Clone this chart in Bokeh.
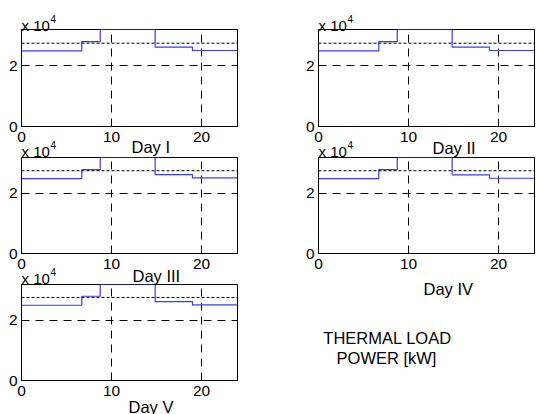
from bokeh.plotting import figure
from bokeh.models import Range1d, FixedTicker, Span, Label
from bokeh.layouts import row, column
from bokeh.embed import file_html
from bokeh.resources import INLINE

# ---------------- data ----------------
day_names = ["Day I", "Day II", "Day III", "Day IV", "Day V"]
# hours at which the thermal load changes (stairs)
step_hours = [0, 6.7, 8.75, 14.85, 19.0, 24]
load_day1 = [24900, 27900, 31900, 26100, 25000, 25000]
load_day2 = [24900, 27900, 31900, 26100, 25000, 25000]
load_day3 = [24900, 27900, 31900, 26200, 25100, 25100]
load_day4 = [24900, 27900, 31900, 26100, 25000, 25000]
load_day5 = [25000, 28000, 31900, 26200, 25100, 25100]
loads = [load_day1, load_day2, load_day3, load_day4, load_day5]
avg_load = [27400, 27400, 27500, 27500, 27600]
x_ticks = [0, 10, 20]
y_ticks = [0, 20000]
y_tick_labels = {0: "0", 20000: "2"}
y_max = 31900
x_max = 24

FONT = "Liberation Sans"

# ---------------- layout (pixels) ----------------
# (canvas_top, frame_left, frame_top, frame_bottom) of each panel
panel_frame = [(0, 21, 29, 126), (268, 318, 29, 126),
               (128, 21, 157, 253), (268, 318, 157, 253),
               (256, 21, 284, 380)]
# left x and baseline y of the day captions
day_label_pos = [(131, 146), (432, 147), (132, 275), (423, 288), (128, 406)]
exp_gap = [4, 4, 6, 6, 6]


def make_panel(i, left, right, top, bottom, height):
    p = figure(width=268, height=height, output_backend="svg", toolbar_location=None,
               x_range=Range1d(0, x_max), y_range=Range1d(0, y_max),
               min_border_left=left, min_border_right=right,
               min_border_top=top, min_border_bottom=bottom)
    p.border_fill_alpha = 0
    p.background_fill_color = "white"
    p.outline_line_color = "black"
    p.outline_line_width = 1

    for ax, tk in ((p.xaxis[0], x_ticks), (p.yaxis[0], y_ticks)):
        ax.ticker = FixedTicker(ticks=tk)
        ax.major_tick_in = 4
        ax.major_tick_out = 0
        ax.minor_tick_in = 0
        ax.minor_tick_out = 0
        ax.axis_line_color = "black"
        ax.major_tick_line_color = "black"
        ax.major_label_text_font = FONT
        ax.major_label_text_font_size = "15.5px"
        ax.major_label_text_color = "black"
    p.xaxis.major_label_standoff = 5
    p.yaxis.major_label_standoff = 4
    p.yaxis.major_label_overrides = y_tick_labels

    p.xgrid.ticker = FixedTicker(ticks=[10, 20])
    p.ygrid.ticker = FixedTicker(ticks=[20000])
    for g in (p.xgrid, p.ygrid):
        g.grid_line_color = "black"
        g.grid_line_dash = "8 6"
        g.grid_line_width = 1

    p.add_layout(Span(location=avg_load[i], dimension="width", line_color="black",
                      line_dash="3 2", line_width=1))
    p.step(step_hours, loads[i], mode="after", line_color="#3a3aff", line_width=1.2)
    return p


pA = make_panel(0, 21, 31, 29, 24, 150)
pB = make_panel(1, 50, 2, 29, 24, 150)
pC = make_panel(2, 21, 31, 29, 25, 150)
pD = make_panel(3, 50, 2, 29, 25, 150)
pE = make_panel(4, 21, 31, 28, 34, 158)

# transparent overlay carrying the captions (page pixel coordinates, y downward)
ov = figure(width=536, height=414, output_backend="svg", toolbar_location=None,
            x_range=Range1d(0, 536), y_range=Range1d(414, 0), min_border=0,
            x_axis_type=None, y_axis_type=None, outline_line_color=None)
ov.border_fill_alpha = 0
ov.background_fill_alpha = 0

for i in range(5):
    _, fl, ft, fb = panel_frame[i]
    base = ft - exp_gap[i]
    ov.add_layout(Label(x=fl, y=base, text="x 10", text_font=FONT, text_font_size="15px",
                        text_color="black", text_align="left", text_baseline="alphabetic"))
    ov.add_layout(Label(x=fl + 29, y=base - 6.5, text="4", text_font=FONT,
                        text_font_size="10px", text_color="black", text_align="left",
                        text_baseline="alphabetic"))
    lx, ly = day_label_pos[i]
    ov.add_layout(Label(x=lx, y=ly, text=day_names[i], text_font=FONT, text_font_size="16.5px",
                        text_color="black", text_align="left", text_baseline="alphabetic"))

ov.add_layout(Label(x=387, y=337, text="THERMAL LOAD", text_font=FONT, text_font_size="16.5px",
                    text_color="black", text_align="center", text_baseline="alphabetic"))
ov.add_layout(Label(x=386, y=357, text="POWER [kW]", text_font=FONT, text_font_size="16.5px",
                    text_color="black", text_align="center", text_baseline="alphabetic"))

layout = column(row(pA, pB),
                row(pC, pD, margin=(-22, 0, 0, 0)),
                row(pE, margin=(-22, 0, 0, 0)),
                row(ov, margin=(-414, 0, 0, 0)))

open("out.html", "w").write(file_html(layout, INLINE))
